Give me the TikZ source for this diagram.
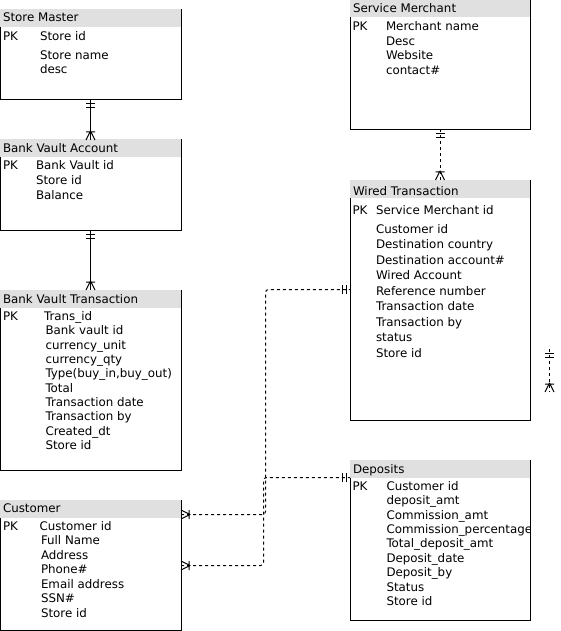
\documentclass[tikz,border=0pt]{standalone}
\usepackage{fontspec}
\setmainfont{DejaVu Sans}
\usetikzlibrary{calc}
\definecolor{hdrgray}{RGB}{224,224,224}

\pgfdeclarearrow{
  name=ERmandOne,
  parameters={\the\pgflinewidth},
  setup code={
    \pgfarrowssettipend{0pt}
    \pgfarrowssetlineend{0pt}
    \pgfarrowssetbackend{-9pt}
    \pgfarrowssetvisualbackend{-9pt}
    \pgfarrowsupperhullpoint{0pt}{4.5pt}
    \pgfarrowsupperhullpoint{-9pt}{4.5pt}
  },
  drawing code={
    \pgfsetdash{}{0pt}
    \pgfpathmoveto{\pgfqpoint{-4pt}{-4.5pt}}\pgfpathlineto{\pgfqpoint{-4pt}{4.5pt}}
    \pgfpathmoveto{\pgfqpoint{-8pt}{-4.5pt}}\pgfpathlineto{\pgfqpoint{-8pt}{4.5pt}}
    \pgfusepathqstroke
  }
}
\pgfdeclarearrow{
  name=ERoneMany,
  parameters={\the\pgflinewidth},
  setup code={
    \pgfarrowssettipend{0pt}
    \pgfarrowssetlineend{0pt}
    \pgfarrowssetbackend{-10pt}
    \pgfarrowssetvisualbackend{-10pt}
    \pgfarrowsupperhullpoint{0pt}{4.5pt}
    \pgfarrowsupperhullpoint{-10pt}{4.5pt}
  },
  drawing code={
    \pgfsetdash{}{0pt}
    \pgfsetroundjoin
    \pgfpathmoveto{\pgfqpoint{0pt}{4.5pt}}\pgfpathlineto{\pgfqpoint{-9pt}{0pt}}\pgfpathlineto{\pgfqpoint{0pt}{-4.5pt}}
    \pgfpathmoveto{\pgfqpoint{-8pt}{-4.5pt}}\pgfpathlineto{\pgfqpoint{-8pt}{4.5pt}}
    \pgfusepathqstroke
  }
}

\begin{document}
\begin{tikzpicture}[x=1pt,y=-1pt,
  font=\fontsize{11.85}{14}\selectfont,
  box/.style={draw=black, line width=1pt, fill=white, rectangle, inner sep=0pt, outer sep=0pt, anchor=north west},
  hdr/.style={fill=hdrgray, draw=none, rectangle, inner sep=0pt, outer sep=0pt, anchor=north west, minimum height=18pt},
  txt/.style={anchor=base west, inner sep=0pt, outer sep=0pt},
  rel/.style={line width=1pt, draw=black},
  drel/.style={line width=1pt, draw=black, dash pattern=on 3pt off 3pt, rounded corners=3pt},
]
\useasboundingbox (0,0) rectangle (560,631);
\fill[white] (0,0) rectangle (560,631);

% ---------------- Store Master
\node[box, minimum width=181pt, minimum height=90pt] (sm) at (0,10) {};
\node[hdr, minimum width=181pt] (smh) at (-0.5,9.5) {};
\node[txt] (smt) at (3,22) {Store Master};
\node[txt] (smpk) at (3,41) {PK};
\node[txt] (sm1) at (40,41) {Store id};
\node[txt] (sm2) at (40,60) {Store name};
\node[txt] (sm3) at (40,74) {desc};

% ---------------- Bank Vault Account
\node[box, minimum width=181pt, minimum height=90pt] (bva) at (0,140) {};
\node[hdr, minimum width=181pt] (bvah) at (-0.5,139.5) {};
\node[txt] (bvat) at (3,152.5) {Bank Vault Account};
\node[txt] (bvapk) at (3,170) {PK};
\node[txt] (bva1) at (36,170) {Bank Vault id};
\node[txt] (bva2) at (36,184.5) {Store id};
\node[txt] (bva3) at (36,199) {Balance};

% ---------------- Bank Vault Transaction
\node[box, minimum width=181pt, minimum height=180pt] (bvt) at (0,290) {};
\node[hdr, minimum width=181pt] (bvth) at (-0.5,289.5) {};
\node[txt] (bvtt) at (3,303) {Bank Vault Transaction};
\node[txt] (bvtpk) at (3,320.5) {PK};
\node[txt] (bvt1) at (44,320.5) {Trans\_id};
\node[txt] (bvt2) at (45.5,334.5) {Bank vault id};
\node[txt] (bvt3) at (45.5,349) {currency\_unit};
\node[txt] (bvt4) at (45.5,363.3) {currency\_qty};
\node[txt] (bvt5) at (45.5,377.6) {Type(buy\_in,buy\_out)};
\node[txt] (bvt6) at (45.5,392) {Total};
\node[txt] (bvt7) at (45.5,406.3) {Transaction date};
\node[txt] (bvt8) at (45.5,420.6) {Transaction by};
\node[txt] (bvt9) at (45.5,435) {Created\_dt};
\node[txt] (bvt10) at (45.5,449.3) {Store id};

% ---------------- Customer
\node[box, minimum width=181pt, minimum height=130pt] (cust) at (0,500) {};
\node[hdr, minimum width=181pt] (custh) at (-0.5,499.5) {};
\node[txt] (custt) at (3,512.5) {Customer};
\node[txt] (custpk) at (3,530) {PK};
\node[txt] (cust1) at (39.5,530) {Customer id};
\node[txt] (cust2) at (41,544.5) {Full Name};
\node[txt] (cust3) at (41,559) {Address};
\node[txt] (cust4) at (41,573.5) {Phone\#};
\node[txt] (cust5) at (41,588) {Email address};
\node[txt] (cust6) at (41,602.5) {SSN\#};
\node[txt] (cust7) at (41,617) {Store id};

% ---------------- Service Merchant
\node[box, minimum width=180pt, minimum height=129.5pt] (smr) at (350,0) {};
\node[hdr, minimum width=180pt] (smrh) at (349.5,-0.5) {};
\node[txt] (smrt) at (353,13) {Service Merchant};
\node[txt] (smrpk) at (352.5,31) {PK};
\node[txt] (smr1) at (386,31) {Merchant name};
\node[txt] (smr2) at (386,45.5) {Desc};
\node[txt] (smr3) at (386,60) {Website};
\node[txt] (smr4) at (386,74.5) {contact\#};

% ---------------- Wired Transaction
\node[box, minimum width=180pt, minimum height=240pt] (wt) at (350,180) {};
\node[hdr, minimum width=180pt] (wth) at (349.5,179.5) {};
\node[txt] (wtt) at (353,195) {Wired Transaction};
\node[txt] (wtpk) at (352.5,214) {PK};
\node[txt] (wt1) at (376,214) {Service Merchant id};
\node[txt] (wt2) at (376,233.3) {Customer id};
\node[txt] (wt3) at (376,248.8) {Destination country};
\node[txt] (wt4) at (376,264.3) {Destination account\#};
\node[txt] (wt5) at (376,279.8) {Wired Account};
\node[txt] (wt6) at (376,295.3) {Reference number};
\node[txt] (wt7) at (376,310.8) {Transaction date};
\node[txt] (wt8) at (376,326.3) {Transaction by};
\node[txt] (wt9) at (376,341.8) {status};
\node[txt] (wt10) at (376,357.3) {Store id};

% ---------------- Deposits
\node[box, minimum width=180pt, minimum height=160pt] (dep) at (350,460) {};
\node[hdr, minimum width=180pt] (deph) at (349.5,459.5) {};
\node[txt] (dept) at (353,473) {Deposits};
\node[txt] (deppk) at (352.5,490) {PK};
\begin{scope}
\clip (350,478) rectangle (530.5,619);
\node[txt] (dep1) at (386.5,490) {Customer id};
\node[txt] (dep2) at (386.5,504.5) {deposit\_amt};
\node[txt] (dep3) at (386.5,519) {Commission\_amt};
\node[txt] (dep4) at (386.5,533.4) {Commission\_percentage};
\node[txt] (dep5) at (386.5,547.8) {Total\_deposit\_amt};
\node[txt] (dep6) at (386.5,562.3) {Deposit\_date};
\node[txt] (dep7) at (386.5,576.7) {Deposit\_by};
\node[txt] (dep8) at (386.5,591.2) {Status};
\node[txt] (dep9) at (386.5,605.6) {Store id};
\end{scope}

% ---------------- Connectors
\draw[rel, ERmandOne-ERoneMany] (sm.south) -- (bva.north);
\draw[rel, ERmandOne-ERoneMany] (bva.south) -- (bvt.north);
\draw[drel, ERmandOne-ERoneMany] (smr.south) -- (wt.north);
\draw[drel, ERoneMany-ERmandOne] ([yshift=-14.5pt]cust.north east) -- ++(84.5pt,0) |- ([yshift=-109.5pt]wt.north west);
\draw[drel, ERoneMany-ERmandOne] ([yshift=-65.5pt]cust.north east) -- ++(82.5pt,0) |- ([yshift=-17.5pt]dep.north west);

\coordinate (s1) at (549.5,349);
\coordinate (s2) at (549.5,392);
\draw[drel, ERmandOne-ERoneMany] (s1) -- (s2);
\end{tikzpicture}
\end{document}
